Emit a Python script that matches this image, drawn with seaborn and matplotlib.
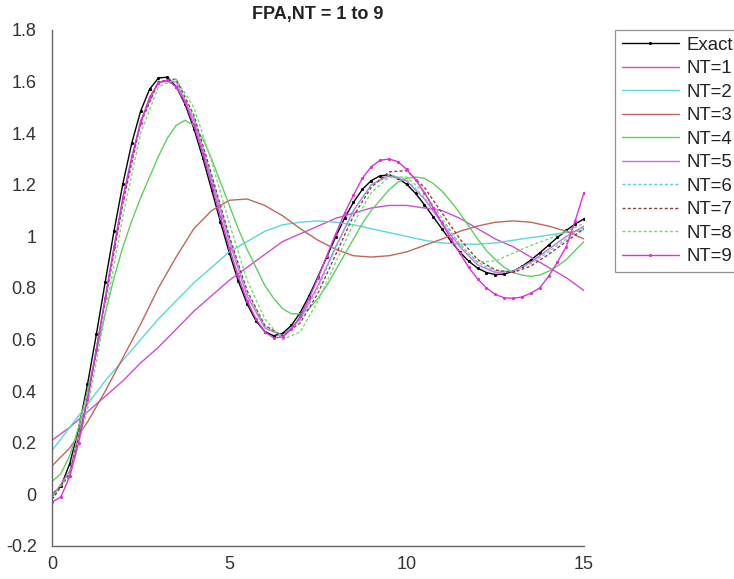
import numpy as np
import pandas as pd
import matplotlib
matplotlib.use("Agg")
import matplotlib.pyplot as plt
import seaborn as sns

# ---------------- data ----------------
t_fine = np.linspace(0, 15, 61)     # step 0.25
t_coarse = np.linspace(0, 15, 31)   # step 0.5

exact = [0.000, 0.031, 0.119, 0.255, 0.426, 0.620, 0.823, 1.022, 1.205, 1.362,
         1.486, 1.570, 1.614, 1.617, 1.581, 1.513, 1.418, 1.305, 1.181, 1.056,
         0.936, 0.828, 0.739, 0.673, 0.631, 0.615, 0.624, 0.655, 0.705, 0.770,
         0.844, 0.921, 0.999, 1.071, 1.132, 1.182, 1.216, 1.235, 1.238, 1.226,
         1.202, 1.167, 1.123, 1.076, 1.028, 0.981, 0.939, 0.904, 0.877, 0.860,
         0.852, 0.854, 0.865, 0.884, 0.908, 0.936, 0.966, 0.996, 1.023, 1.048, 1.068]

nt9 = [-0.03, -0.01, 0.07, 0.20, 0.37, 0.56, 0.76, 0.96, 1.15, 1.31,
       1.44, 1.54, 1.595, 1.605, 1.58, 1.52, 1.43, 1.32, 1.20, 1.075,
       0.955, 0.845, 0.75, 0.68, 0.63, 0.607, 0.61, 0.64, 0.69, 0.76,
       0.84, 0.925, 1.01, 1.09, 1.16, 1.225, 1.27, 1.295, 1.30, 1.29,
       1.26, 1.22, 1.17, 1.11, 1.05, 0.99, 0.935, 0.88, 0.835, 0.80,
       0.775, 0.762, 0.76, 0.765, 0.78, 0.80, 0.845, 0.90, 0.96, 1.06, 1.17]

nt4 = [0.05, 0.08, 0.15, 0.26, 0.40, 0.55, 0.70, 0.84, 0.96, 1.06,
       1.15, 1.23, 1.31, 1.38, 1.43, 1.45, 1.43, 1.38, 1.30, 1.21,
       1.12, 1.03, 0.95, 0.88, 0.81, 0.76, 0.72, 0.70, 0.70, 0.72,
       0.76, 0.81, 0.87, 0.93, 0.99, 1.05, 1.10, 1.14, 1.18, 1.21,
       1.225, 1.23, 1.225, 1.205, 1.175, 1.135, 1.09, 1.04, 0.99, 0.945,
       0.91, 0.88, 0.86, 0.85, 0.845, 0.85, 0.865, 0.885, 0.91, 0.945, 0.98]

nt1 = [0.21, 0.26, 0.32, 0.38, 0.44, 0.51, 0.57, 0.64, 0.71, 0.77,
       0.83, 0.88, 0.93, 0.98, 1.01, 1.04, 1.07, 1.09, 1.11, 1.12,
       1.12, 1.11, 1.10, 1.07, 1.03, 0.99, 0.96, 0.92, 0.88, 0.84, 0.79]

nt2 = [0.17, 0.26, 0.35, 0.44, 0.52, 0.60, 0.68, 0.75, 0.82, 0.88,
       0.94, 0.98, 1.02, 1.045, 1.055, 1.06, 1.055, 1.045, 1.03, 1.015,
       1.00, 0.985, 0.975, 0.97, 0.97, 0.975, 0.985, 0.995, 1.005, 1.015, 1.025]

nt3 = [0.11, 0.18, 0.28, 0.40, 0.53, 0.66, 0.80, 0.92, 1.03, 1.10,
       1.14, 1.145, 1.12, 1.08, 1.03, 0.985, 0.95, 0.925, 0.92, 0.925,
       0.94, 0.965, 0.99, 1.02, 1.04, 1.055, 1.06, 1.055, 1.04, 1.02, 0.99]

nt5 = [-0.01, 0.09, 0.37, 0.76, 1.15, 1.45, 1.60, 1.60, 1.45, 1.22,
       0.98, 0.77, 0.645, 0.615, 0.68, 0.81, 0.96, 1.10, 1.20, 1.235,
       1.215, 1.145, 1.05, 0.96, 0.89, 0.86, 0.865, 0.90, 0.95, 1.00, 1.04]

nt6 = [-0.02, 0.08, 0.36, 0.75, 1.14, 1.44, 1.60, 1.60, 1.46, 1.23,
       0.99, 0.78, 0.65, 0.615, 0.675, 0.80, 0.955, 1.10, 1.20, 1.24,
       1.22, 1.15, 1.06, 0.97, 0.90, 0.865, 0.865, 0.895, 0.94, 0.99, 1.035]

nt7 = [-0.02, 0.08, 0.36, 0.75, 1.13, 1.44, 1.60, 1.61, 1.47, 1.24,
       1.00, 0.79, 0.655, 0.615, 0.665, 0.78, 0.93, 1.08, 1.19, 1.25,
       1.255, 1.19, 1.09, 0.99, 0.91, 0.87, 0.86, 0.885, 0.93, 0.98, 1.03]

nt8 = [0.00, 0.07, 0.33, 0.70, 1.08, 1.40, 1.58, 1.61, 1.50, 1.29,
       1.05, 0.83, 0.68, 0.60, 0.63, 0.75, 0.90, 1.05, 1.17, 1.23,
       1.23, 1.17, 1.07, 0.97, 0.90, 0.905, 0.935, 0.965, 0.99, 1.02, 1.05]

labels = ["Exact", "NT=1", "NT=2", "NT=3", "NT=4", "NT=5",
          "NT=6", "NT=7", "NT=8", "NT=9"]
x_ticks = [0, 5, 10, 15]
y_ticks = [-0.2, 0, 0.2, 0.4, 0.6, 0.8, 1.0, 1.2, 1.4, 1.6, 1.8]
y_tick_labels = ["-0.2", "0", "0.2", "0.4", "0.6", "0.8", "1", "1.2", "1.4", "1.6", "1.8"]

# ---------------- style ----------------
sns.set_style("white")
plt.rcParams["font.family"] = ["Liberation Sans", "DejaVu Sans"]

fig = plt.figure(figsize=(7.34, 5.79), dpi=100)
ax = fig.add_axes([52 / 734, 1 - 546 / 579, (584 - 52) / 734, (546 - 30) / 579])

series = [
    (t_fine, exact, "#000000", "-", "o"),
    (t_coarse, nt1, "#cc4fcc", "-", None),
    (t_coarse, nt2, "#5ad8d8", "-", None),
    (t_coarse, nt3, "#c0665c", "-", None),
    (t_fine, nt4, "#5fcf5f", "-", None),
    (t_coarse, nt5, "#c870d8", "-", None),
    (t_coarse, nt6, "#5ad0d0", (0, (2.2, 1.6)), None),
    (t_coarse, nt7, "#9a3a3a", (0, (2.2, 1.6)), None),
    (t_coarse, nt8, "#6fdc6f", (0, (2.2, 1.6)), None),
    (t_fine, nt9, "#dd30dd", "-", "o"),
]

for (tx, vals, col, ls, mk), lab in zip(series, labels):
    df = pd.DataFrame({"t": tx, "y": vals})
    kw = dict(color=col, linewidth=1.0, label=lab, ax=ax)
    if mk is not None:
        kw.update(marker=mk, markersize=2.3, markeredgewidth=0)
    line_ax = sns.lineplot(data=df, x="t", y="y", **kw)
    line_ax.lines[-1].set_linestyle(ls)

ax.set_xlim(0, 15)
ax.set_ylim(-0.2, 1.8)
ax.set_xticks(x_ticks)
ax.set_yticks(y_ticks)
ax.set_yticklabels(y_tick_labels)
ax.set_xlabel("")
ax.set_ylabel("")

for s in ["top", "right"]:
    ax.spines[s].set_visible(False)
for s in ["left", "bottom"]:
    ax.spines[s].set_color("#666666")
    ax.spines[s].set_linewidth(1.0)
ax.tick_params(axis="both", direction="in", length=5, width=0.9,
               color="#666666", labelsize=13, labelcolor="#333333", pad=7)
ax.tick_params(axis="y", pad=11)

ax.set_title("FPA,NT = 1 to 9", fontsize=13, fontweight="bold", color="#222222", pad=8)

leg = ax.legend(loc="upper left", bbox_to_anchor=(615 / 734, 1 - 30 / 579),
                bbox_transform=fig.transFigure, frameon=True, fancybox=False,
                fontsize=13.4, handlelength=3.1, handletextpad=0.4,
                labelspacing=0.35, borderpad=0.35, borderaxespad=0)
leg.get_frame().set_edgecolor("#777777")
leg.get_frame().set_linewidth(0.9)
for txt in leg.get_texts():
    txt.set_color("#222222")

fig.savefig("out.png", dpi=100)
